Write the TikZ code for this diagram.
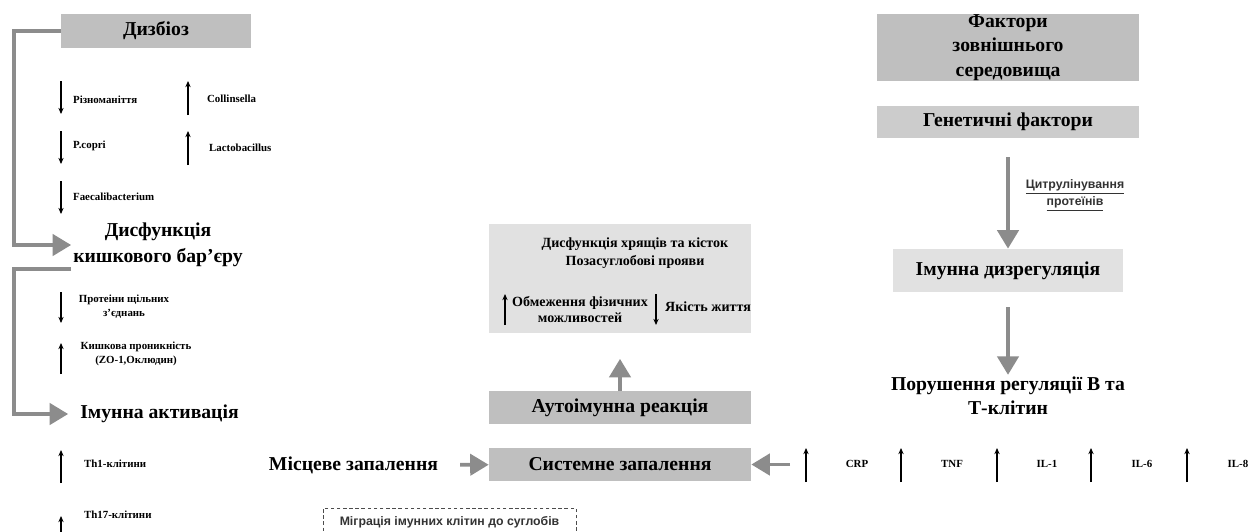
\documentclass[tikz,border=0pt]{standalone}
\usepackage{fontspec}
\setmainfont{Liberation Serif}
\newfontfamily\sansfont{Liberation Sans}
\usetikzlibrary{arrows.meta}
\usepackage{xcolor}
\definecolor{boxgray}{HTML}{BFBFBF}
\definecolor{boxlight}{HTML}{E1E1E1}
\definecolor{linkgray}{HTML}{8C8C8C}
\newcommand\hdfont{\fontsize{11.2}{13.8}\selectfont\bfseries}
\newcommand\mdfont{\fontsize{8}{10}\selectfont\bfseries}
\newcommand\smfont{\fontsize{6.2}{8.3}\selectfont\bfseries}

\begin{document}
\begin{tikzpicture}[x=0.02cm,y=-0.02cm,
  darkbox/.style={fill=boxgray,inner sep=0pt,align=center,font=\hdfont},
  lightbox/.style={fill=boxlight,inner sep=0pt,align=center,font=\hdfont},
  heading/.style={align=center,font=\hdfont,inner sep=1pt},
  midlabel/.style={align=center,font=\mdfont,inner sep=1pt},
  smalllabel/.style={align=center,font=\smfont,inner sep=1pt},
  sanslabel/.style={align=center,font=\sansfont\fontsize{7}{8.5}\selectfont\bfseries,text=black!80},
  bigarrow/.style={draw=linkgray,line width=2.2pt,-{Triangle[length=10.5pt,width=12pt]}},
  updown/.style={line width=0.6pt,-{Stealth[length=3.5pt,width=3pt]}}]
\path[use as bounding box,clip] (0,0) rectangle (1250,531);

% left column
\node[darkbox,minimum width=3.8cm,minimum height=0.68cm] (dysb) at (156,31) {Дизбіоз};
\draw[updown] (61,81) -- ++(0,33);
\node[smalllabel,anchor=west] (divers) at (71,100) {Різноманіття};
\draw[updown] (188,115) -- ++(0,-34);
\node[smalllabel,anchor=west] (collin) at (205,99) {Collinsella};
\draw[updown] (61,131) -- ++(0,33);
\node[smalllabel,anchor=west] (pcopri) at (71,146) {P.copri};
\draw[updown] (188,165) -- ++(0,-34);
\node[smalllabel,anchor=west] (lacto) at (207,148) {Lactobacillus};
\draw[updown] (61,181) -- ++(0,33);
\node[smalllabel,anchor=west] (faecal) at (71,197) {Faecalibacterium};

\node[heading,font=\fontsize{11.2}{14.7}\selectfont\bfseries] (barrier) at (158,245) {Дисфункція\\кишкового бар'єру};
\draw[bigarrow] (dysb.west) -- ++(-47,0) |- (barrier.west);

\draw[updown] (61,292) -- ++(0,31);
\node[smalllabel] (tightj) at (124,306.5) {Протеіни щільних\\з'єднань};
\draw[updown] (61,374) -- ++(0,-31);
\node[smalllabel,font=\fontsize{6.2}{8}\selectfont\bfseries] (permea) at (136,354) {Кишкова проникність\\(ZO-1,Оклюдин)};

\node[heading] (activ) at (159.5,414) {Імунна активація};
\draw[bigarrow,shorten >=0.2cm] (barrier.south west) -- ++(-57,0) |- (activ.west);

\draw[updown] (61,483) -- ++(0,-33);
\node[smalllabel,anchor=west] (th1) at (82,464) {Th1-клітини};
\draw[updown] (61,550) -- ++(0,-34);
\node[smalllabel,anchor=west] (th17) at (82,515) {Th17-клітини};

% middle column
\node[heading] (local) at (353.5,465) {Місцеве запалення};
\node[darkbox,minimum width=5.24cm,minimum height=0.66cm] (sysinfl) at (620,464.5) {Системне запалення};
\node[darkbox,minimum width=5.24cm,minimum height=0.66cm] (autoimm) at (620,407.5) {Аутоімунна реакція};
\node[lightbox,minimum width=5.24cm,minimum height=2.2cm] (outcome) at (620,278.5) {};
\node[midlabel] (cartil) at (635,253) {Дисфункція хрящів та кісток\\Позасуглобові прояви};
\draw[updown] (505,325) -- ++(0,-31);
\node[midlabel,font=\fontsize{8}{9.6}\selectfont\bfseries] (physlim) at (580,309.5) {Обмеження фізичних\\можливостей};
\draw[updown] (656,294) -- ++(0,31);
\node[midlabel,anchor=west] (quality) at (663,307) {Якість життя};

\draw[bigarrow,shorten <=0.4cm] (local) -- (sysinfl);
\coordinate (cytoin) at (790,464.5);
\draw[bigarrow] (cytoin) -- (sysinfl.east);
\draw[bigarrow,shorten >=0.5cm] (autoimm.north) -- (outcome.south);

\node[draw=black!70,line width=0.5pt,dash pattern=on 2pt off 1.5pt,minimum width=5.06cm,minimum height=0.56cm,
  sanslabel] (migr) at (449.5,522) {Міграція імунних клітин до суглобів};

% right column
\node[darkbox,minimum width=5.24cm,minimum height=1.34cm] (envfac) at (1008,47.5) {Фактори\\зовнішнього\\середовища};
\node[darkbox,fill=boxgray!80,minimum width=5.24cm,minimum height=0.64cm] (genfac) at (1008,122) {Генетичні фактори};
\node[lightbox,minimum width=4.6cm,minimum height=0.86cm] (dysreg) at (1008,270.5) {Імунна дизрегуляція};
\node[heading] (btcell) at (1008,396) {Порушення регуляції В та\\Т-клітин};
\draw[bigarrow,shorten <=0.38cm] (genfac) -- (dysreg);
\node[sanslabel] (citrul) at (1075,195.5) {\underline{Цитрулінування}\\\underline{протеїнів}};
\draw[bigarrow,shorten <=0.3cm] (dysreg) -- (btcell);

% cytokines
\draw[updown] (806,482) -- ++(0,-34);
\node[smalllabel] (crp) at (857,464) {CRP};
\draw[updown] (901,482) -- ++(0,-34);
\node[smalllabel] (tnf) at (952,464) {TNF};
\draw[updown] (997,482) -- ++(0,-34);
\node[smalllabel] (il1) at (1047,464) {IL-1};
\draw[updown] (1091,482) -- ++(0,-34);
\node[smalllabel] (il6) at (1142,464) {IL-6};
\draw[updown] (1187,482) -- ++(0,-34);
\node[smalllabel] (il8) at (1238,464) {IL-8};
\end{tikzpicture}
\end{document}
